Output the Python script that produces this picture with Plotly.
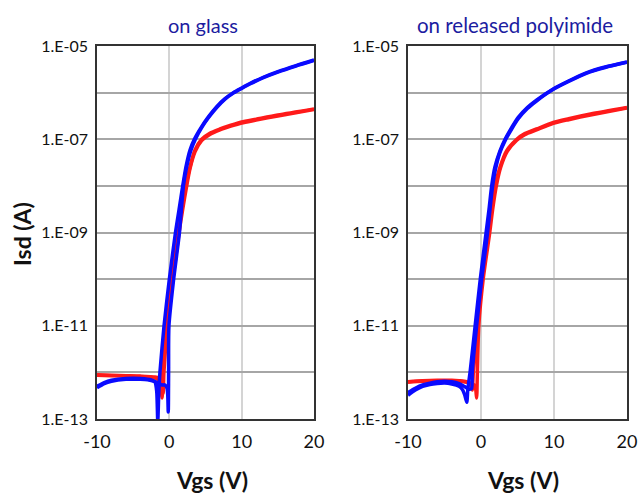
import plotly.graph_objects as go

# ---------------- data (Vgs in V, log10 of Isd in A) ----------------
glass_red_fwd_x = [-10, -8, -6, -4, -3, -2, -1.5, -1.2, -1.0, -0.9, -0.4, 0.37, 1.25, 1.75, 2.3, 2.86, 3.55, 4.47, 5.6, 7.0, 8.5, 10, 12, 15, 20]
glass_red_fwd_logI = [-12.06, -12.07, -12.08, -12.09, -12.1, -12.12, -12.16, -12.25, -12.55, -12.0, -11.0, -10.0, -9.0, -8.5, -8.0, -7.59, -7.23, -7.0, -6.87, -6.78, -6.7, -6.63, -6.57, -6.48, -6.35]

glass_red_rev_x = [20, 15, 12, 10, 8.5, 7.0, 5.6, 4.47, 3.55, 2.86, 2.4, 1.85, 1.35, 0.5, -0.25, -0.75, -0.85, -1.1, -1.5, -2, -4, -6, -8, -10]
glass_red_rev_logI = [-6.36, -6.5, -6.59, -6.65, -6.72, -6.8, -6.9, -7.03, -7.27, -7.63, -8.0, -8.5, -9.0, -10.0, -11.0, -12.0, -12.45, -12.2, -12.12, -12.1, -12.08, -12.07, -12.06, -12.05]

glass_blue_fwd_x = [-10, -9, -8, -6, -4, -2.5, -2, -1.75, -1.6, -1.45, -1.3, -0.73, 0, 0.85, 1.35, 1.85, 2.3, 2.86, 3.46, 4.47, 5.4, 6.55, 7.7, 8.85, 10, 11.2, 13, 15, 17.5, 20]
glass_blue_fwd_logI = [-12.3, -12.22, -12.17, -12.13, -12.13, -12.16, -12.2, -12.4, -13.05, -12.4, -12.0, -11.0, -10.0, -9.0, -8.5, -8.0, -7.59, -7.23, -7.0, -6.73, -6.52, -6.3, -6.13, -6.0, -5.9, -5.8, -5.67, -5.55, -5.42, -5.3]

glass_blue_rev_x = [20, 17.5, 15, 13, 11.2, 10, 8.85, 7.7, 6.55, 5.4, 4.47, 3.6, 3.0, 2.4, 1.95, 1.4, 0.6, -0.05, -0.1, -0.15, -0.3, -0.6, -1.0, -1.3, -2, -3, -4, -6, -8, -9, -10]
glass_blue_rev_logI = [-5.31, -5.43, -5.56, -5.68, -5.81, -5.91, -6.01, -6.14, -6.32, -6.54, -6.75, -7.0, -7.23, -7.59, -8.0, -9.0, -10.0, -11.0, -12.0, -12.85, -12.35, -12.27, -12.27, -12.25, -12.2, -12.16, -12.15, -12.15, -12.19, -12.24, -12.33]

poly_red_fwd_x = [-10, -8, -6, -4, -3, -2, -1.6, -1.35, -1.2, -1.05, -0.45, 0.1, 1.0, 1.45, 1.9, 2.6, 3.5, 4.9, 6.0, 7.6, 9.9, 12, 15, 20]
poly_red_fwd_logI = [-12.2, -12.18, -12.17, -12.17, -12.18, -12.2, -12.24, -12.3, -12.38, -12.0, -11.0, -10.0, -9.0, -8.5, -8.0, -7.6, -7.25, -7.0, -6.88, -6.78, -6.64, -6.56, -6.46, -6.32]

poly_red_rev_x = [20, 15, 12, 9.9, 7.6, 6.0, 4.9, 3.6, 2.7, 2.1, 1.6, 1.2, 0.3, -0.3, -0.5, -0.6, -0.8, -1.2, -1.6, -2, -3, -4, -6, -8, -10]
poly_red_rev_logI = [-6.33, -6.48, -6.58, -6.66, -6.8, -6.9, -7.02, -7.26, -7.6, -8.0, -8.5, -9.0, -10.0, -11.0, -12.0, -12.55, -12.3, -12.24, -12.22, -12.21, -12.19, -12.18, -12.18, -12.19, -12.21]

poly_blue_fwd_x = [-10, -9, -8, -7, -6, -5, -4, -3, -2.5, -2.2, -1.95, -1.8, -1.5, -0.8, -0.1, 0.7, 1.1, 1.46, 1.9, 2.6, 3.3, 4.2, 5.1, 6.35, 7.6, 9.9, 12, 14.5, 17, 20]
poly_blue_fwd_logI = [-12.49, -12.38, -12.3, -12.26, -12.24, -12.23, -12.25, -12.3, -12.38, -12.5, -12.64, -12.35, -12.0, -11.0, -10.0, -9.0, -8.5, -8.0, -7.6, -7.25, -7.0, -6.75, -6.53, -6.32, -6.16, -5.92, -5.75, -5.57, -5.45, -5.34]

poly_blue_rev_x = [20, 17, 14.5, 12, 9.9, 7.6, 6.35, 5.1, 4.2, 3.3, 2.6, 2.0, 1.55, 0.9, 0.1, -0.6, -1.2, -1.3, -1.6, -2.0, -2.5, -3, -4, -5, -6, -7, -8, -9, -10]
poly_blue_rev_logI = [-5.35, -5.46, -5.58, -5.76, -5.93, -6.18, -6.34, -6.56, -6.78, -7.03, -7.28, -7.63, -8.05, -9.0, -10.0, -11.0, -12.0, -12.35, -12.36, -12.33, -12.28, -12.24, -12.2, -12.19, -12.2, -12.23, -12.27, -12.34, -12.43]

x_ticks = [-10, 0, 10, 20]
x_ticktext = ["-10", "0", "10", "20"]
y_decades = [-13, -12, -11, -10, -9, -8, -7, -6, -5]
y_ticktext = ["1.E-13", "", "1.E-11", "", "1.E-09", "", "1.E-07", "", "1.E-05"]

panel_titles = ["on glass", "on released polyimide"]
x_title = "Vgs (V)"
y_title = "Isd (A)"

# ---------------- figure ----------------
FONT = "Lato, 'Open Sans', sans-serif"
RED = "#ff1a1a"
BLUE = "#0a0aff"

fig = go.Figure()

def add(x, logi, color, xa, ya):
    fig.add_trace(go.Scatter(
        x=x, y=[10 ** v for v in logi], mode="lines",
        line=dict(color=color, width=3.5, shape="spline", smoothing=0.7),
        xaxis=xa, yaxis=ya, showlegend=False, hoverinfo="skip"))

add(glass_red_fwd_x, glass_red_fwd_logI, RED, "x", "y")
add(glass_red_rev_x, glass_red_rev_logI, RED, "x", "y")
add(glass_blue_fwd_x, glass_blue_fwd_logI, BLUE, "x", "y")
add(glass_blue_rev_x, glass_blue_rev_logI, BLUE, "x", "y")
add(poly_red_fwd_x, poly_red_fwd_logI, RED, "x2", "y2")
add(poly_red_rev_x, poly_red_rev_logI, RED, "x2", "y2")
add(poly_blue_fwd_x, poly_blue_fwd_logI, BLUE, "x2", "y2")
add(poly_blue_rev_x, poly_blue_rev_logI, BLUE, "x2", "y2")

W, H = 641, 495

def px(x):
    return x / W

def py(y):
    return 1 - y / H

ydom = [py(419), py(46)]

xcommon = dict(range=[-10, 20], tickmode="array", tickvals=x_ticks, ticktext=x_ticktext,
               showgrid=True, gridcolor="#d4d4d4", gridwidth=1.5, zeroline=False,
               showline=True, linecolor="#333333", linewidth=1.5, mirror=True,
               ticks="outside", ticklen=6, tickcolor="rgba(0,0,0,0)", automargin=False,
               tickfont=dict(family=FONT, size=18, color="#111111"))
ycommon = dict(type="log", range=[-13, -5], tickmode="array",
               tickvals=[10 ** d for d in y_decades], ticktext=y_ticktext,
               showgrid=True, gridcolor="#a6a6a6", gridwidth=1.5, zeroline=False,
               showline=True, linecolor="#333333", linewidth=1.5, mirror=True,
               ticks="outside", ticklen=4, tickcolor="rgba(0,0,0,0)", automargin=False,
               tickfont=dict(family=FONT, size=16, color="#111111"), domain=ydom)

fig.update_layout(
    width=W, height=H,
    margin=dict(l=0, r=0, t=0, b=0),
    paper_bgcolor="white", plot_bgcolor="white",
    font=dict(family=FONT),
    xaxis=dict(xcommon, domain=[px(97), px(314)], anchor="y"),
    yaxis=dict(ycommon, anchor="x"),
    xaxis2=dict(xcommon, domain=[px(408), px(627)], anchor="y2"),
    yaxis2=dict(ycommon, anchor="x2"),
)

TITLE_COLOR = "#1c1ca0"
ann = [
    dict(text=panel_titles[0], x=px(203), y=py(25), font=dict(size=20, color=TITLE_COLOR)),
    dict(text=panel_titles[1], x=px(515), y=py(25), font=dict(size=20.5, color=TITLE_COLOR)),
    dict(text="<b>" + x_title + "</b>", x=px(212), y=py(480), font=dict(size=23, color="#111111")),
    dict(text="<b>" + x_title + "</b>", x=px(523), y=py(480), font=dict(size=23, color="#111111")),
    dict(text="<b>" + y_title + "</b>", x=px(22), y=py(234), textangle=-90, font=dict(size=23, color="#111111")),
]
for a in ann:
    a.update(xref="paper", yref="paper", showarrow=False, xanchor="center", yanchor="middle")
    a["font"]["family"] = FONT
fig.update_layout(annotations=ann)

fig.write_html("out.html", config={"displayModeBar": False},
               post_script="document.body.style.margin='0';document.body.style.overflow='hidden';")
